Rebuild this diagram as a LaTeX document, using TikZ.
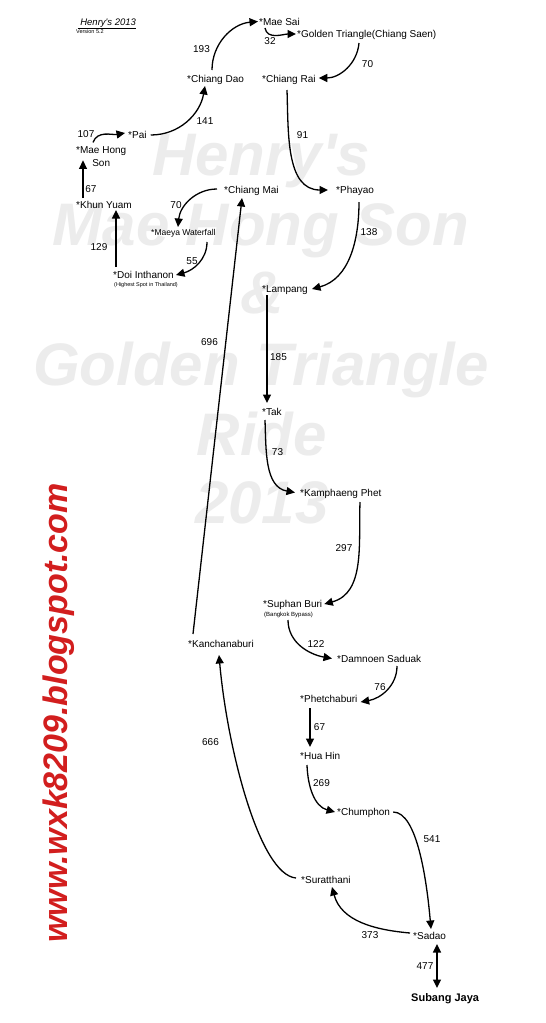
\documentclass[tikz,border=0pt]{standalone}
\usepackage{fontspec}
\setmainfont{Liberation Sans}
\newfontfamily\plainsans{Liberation Sans}
\usetikzlibrary{arrows.meta,calc}
\definecolor{wmgray}{RGB}{236,236,236}
\definecolor{blogred}{RGB}{210,30,30}
\tikzset{
  place/.style={anchor=west, inner sep=0pt, text height=7pt, text depth=0pt, font=\fontsize{10}{12}\selectfont},
  num/.style={inner sep=0pt, text height=7pt, text depth=0pt, font=\fontsize{10}{12}\selectfont},
  tiny/.style={anchor=west, inner sep=0pt, text height=4pt, text depth=0pt, font=\fontsize{5.5}{6}\selectfont},
  arr/.style={-{Triangle[length=8.5pt,width=8pt]}, line width=1.3pt},
  wm/.style={anchor=base, inner sep=0pt, text=wmgray, font=\plainsans\fontsize{60}{70}\selectfont\bfseries\itshape}
}
\begin{document}
\begin{tikzpicture}[x=1pt,y=1pt]
\useasboundingbox (0,0) rectangle (546,-1023);
\fill[white] (0,0) rectangle (546,-1023);
% watermark
\node[wm] (wm1) at (261,-175) {Henry's};
\node[wm] (wm2) at (261,-245) {Mae Hong Son};
\node[wm] (wm3) at (262,-313) {\&};
\node[wm] (wm4) at (261,-385) {Golden Triangle};
\node[wm] (wm5) at (262,-455) {Ride};
\node[wm] (wm6) at (262,-523) {2013};
% blog
\node[rotate=90, anchor=base, inner sep=0pt, text=blogred, font=\fontsize{34}{40}\selectfont\bfseries\itshape] (blog) at (67,-713) {www.wxk8209.blogspot.com};
% header
\node[anchor=base west, inner sep=0pt, font=\plainsans\fontsize{9.5}{11}\selectfont\itshape] (hdr) at (77.5,-25) {\underline{\ Henry's 2013}};
\node[anchor=base west, inner sep=0pt, font=\fontsize{5.5}{6}\selectfont] (ver) at (76,-33.5) {Version 5.2};
% places
\node[place] (maesai) at (259,-22) {*Mae Sai};
\node[place] (golden) at (297,-34) {*Golden Triangle(Chiang Saen)};
\node[place] (cdao) at (187,-79) {*Chiang Dao};
\node[place] (crai) at (262,-78.5) {*Chiang Rai};
\node[place] (pai) at (128,-135) {*Pai};
\node[anchor=north west, inner sep=0pt, align=center, font=\fontsize{10}{13}\selectfont] (mhs) at (76,-146.4) {*Mae Hong\\Son};
\node[place] (kyuam) at (76,-205) {*Khun Yuam};
\node[place] (cmai) at (224,-190) {*Chiang Mai};
\node[place] (phayao) at (336,-190) {*Phayao};
\node[place, text height=6pt, font=\fontsize{8.5}{10}\selectfont] (maeya) at (151,-232.5) {*Maeya Waterfall};
\node[place] (doi) at (113,-275) {*Doi Inthanon};
\node[tiny] (doisub) at (114,-284.5) {(Highest Spot in Thailand)};
\node[place] (lampang) at (262,-289) {*Lampang};
\node[place] (tak) at (262,-411.5) {*Tak};
\node[place] (kphet) at (300,-492.5) {*Kamphaeng Phet};
\node[place] (suphan) at (263,-604) {*Suphan Buri};
\node[tiny, font=\fontsize{6}{7}\selectfont] (suphansub) at (264,-614.5) {(Bangkok Bypass)};
\node[place] (kanch) at (188,-644) {*Kanchanaburi};
\node[place] (damnoen) at (337,-659) {*Damnoen Saduak};
\node[place] (phet) at (300,-699) {*Phetchaburi};
\node[place] (huahin) at (300,-755.5) {*Hua Hin};
\node[place] (chumphon) at (337,-812) {*Chumphon};
\node[place] (surat) at (301,-880) {*Suratthani};
\node[place] (sadao) at (413,-936) {*Sadao};
\node[place, text height=8pt, font=\fontsize{11}{13}\selectfont\bfseries] (subang) at (411,-997) {Subang Jaya};
% distances
\node[num] (n193) at (201.5,-49) {193};
\node[num] (n32) at (270,-40.5) {32};
\node[num] (n70a) at (367.5,-64) {70};
\node[num] (n141) at (205,-121) {141};
\node[num] (n107) at (86,-134) {107};
\node[num] (n91) at (302.5,-134.5) {91};
\node[num] (n67a) at (91,-189) {67};
\node[num] (n70b) at (176,-205) {70};
\node[num] (n138) at (369,-232) {138};
\node[num] (n129) at (99,-247) {129};
\node[num] (n55) at (192,-260.5) {55};
\node[num] (n696) at (209.5,-342) {696};
\node[num] (n185) at (278.5,-357) {185};
\node[num] (n73) at (277.5,-452) {73};
\node[num] (n297) at (344,-548) {297};
\node[num] (n122) at (316,-644) {122};
\node[num] (n76) at (380,-687) {76};
\node[num] (n67b) at (319.5,-727) {67};
\node[num] (n666) at (210.5,-742) {666};
\node[num] (n269) at (321.5,-783) {269};
\node[num] (n541) at (432,-839) {541};
\node[num] (n373) at (370,-935) {373};
\node[num] (n477) at (425,-966) {477};
% connectors
\draw[arr] ($(cdao.west)+(25,9)$) to[out=90,in=185] ($(maesai.west)+(-1,0.5)$);
\draw[arr] ($(maesai.west)+(6,-6)$) to[out=-80,in=180] ($(golden.west)+(-1,0)$);
\draw[arr] ($(golden.west)+(62,-9)$) to[out=-95,in=0] ($(crai.east)+(3,0.5)$);
\draw[arr] ($(crai.west)+(25,-11.5)$) to[out=-88,in=180] ($(phayao.west)+(-8,0)$);
\draw[arr] ($(phayao.west)+(23,-12)$) to[out=-90,in=15] ($(lampang.east)+(4,0)$);
\draw[arr] ($(lampang.west)+(5,-6)$) -- ($(tak.west)+(5,8.5)$);
\draw[arr] ($(tak.west)+(3,-8.5)$) to[out=-88,in=170] ($(kphet.west)+(-5,0)$);
\draw[arr] ($(kphet.west)+(60,-9.5)$) to[out=-92,in=15] ($(suphan.east)+(2,0)$);
\draw[arr] ($(suphan.west)+(25,-16)$) to[out=-90,in=170] ($(damnoen.west)+(-5,0.5)$);
\draw[arr] ($(damnoen.west)+(60,-7)$) to[out=-90,in=10] ($(phet.east)+(3,-3)$);
\draw[arr] ($(phet.west)+(10,-9)$) -- ($(huahin.west)+(10,8.5)$);
\draw[arr] ($(huahin.west)+(7,-9.5)$) to[out=-88,in=165] ($(chumphon.west)+(-2,0)$);
\draw[arr] ($(chumphon.east)+(3,0)$) to[out=0,in=95,out looseness=0.5] ($(sadao.west)+(18,7)$);
\draw[arr] ($(sadao.west)+(-3,3)$) to[out=175,in=-75] ($(surat.west)+(31,-7)$);
\draw[arr] ($(surat.west)+(-5,2)$) to[out=175,in=-85,out looseness=0.4] ($(kanch.west)+(31,-11)$);
\draw[arr] ($(kanch.west)+(5,10)$) -- ($(cmai.west)+(18,-8)$);
\draw[arr] ($(cmai.west)+(-7,1)$) to[out=180,in=85] ($(maeya.west)+(27,5.5)$);
\draw[arr] ($(maeya.west)+(56,-9.5)$) to[out=-90,in=15] ($(doi.east)+(2,0)$);
\draw[arr] ($(doi.west)+(3,8)$) -- ($(kyuam.west)+(40,-5)$);
\draw[arr] ($(kyuam.west)+(7,7)$) -- ($(mhs.north west)+(7,-14)$);
\draw[arr] ($(mhs.north west)+(17,4)$) to[out=70,in=190] ($(pai.west)+(-3,2)$);
\draw[arr] ($(pai.east)+(4,0)$) to[out=0,in=-100] ($(cdao.west)+(18,-7)$);
\draw[{Triangle[length=8.5pt,width=8pt]}-{Triangle[length=8.5pt,width=8pt]}, line width=1.3pt] ($(sadao.west)+(24,-8)$) -- ($(subang.west)+(26,9)$);
\end{tikzpicture}
\end{document}
